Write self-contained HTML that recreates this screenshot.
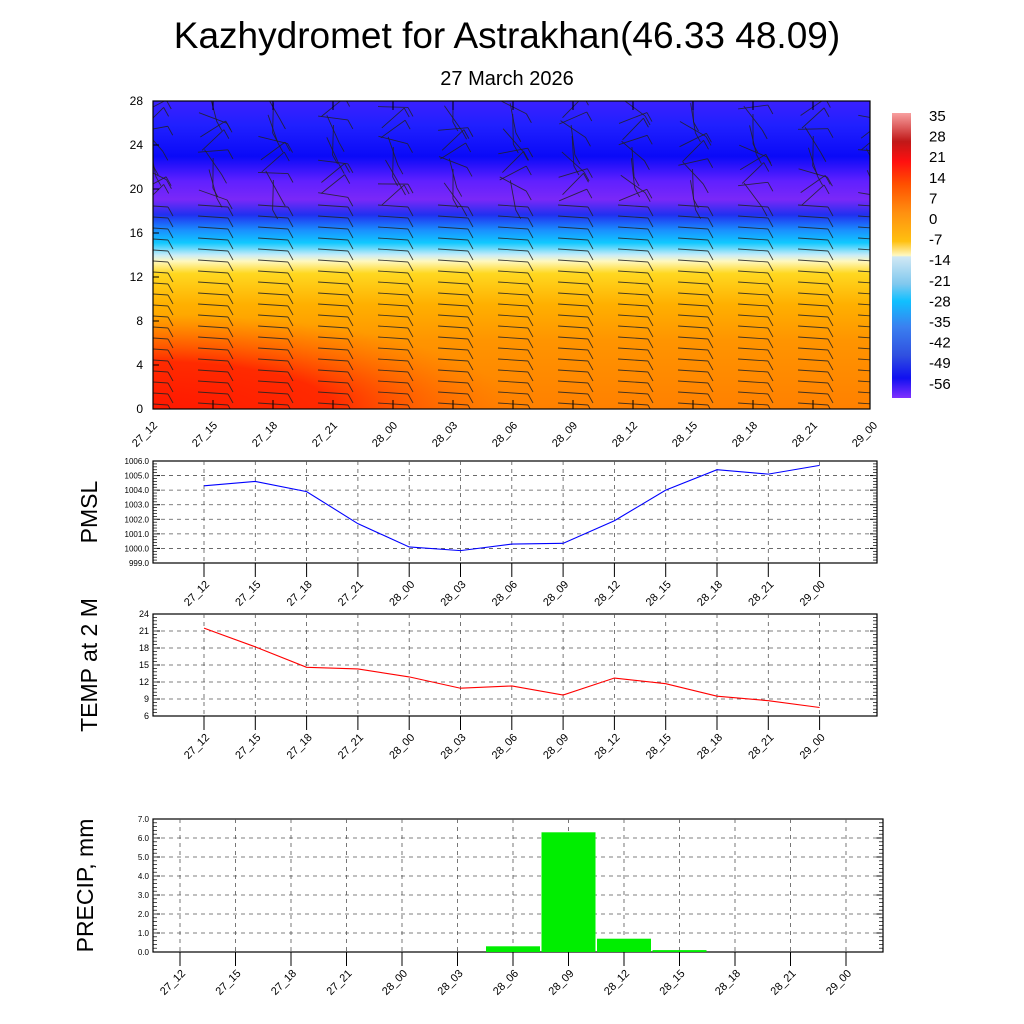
<!DOCTYPE html>
<html><head><meta charset="utf-8"><style>
body{margin:0;background:#fff;}
svg{display:block;font-family:"Liberation Sans",sans-serif;}
</style></head><body>
<svg id="s" width="1024" height="1024" xmlns="http://www.w3.org/2000/svg">
<defs>
<linearGradient id="fld" x1="0" y1="0" x2="0" y2="1">
<stop offset="0" stop-color="#3a20ff"/>
<stop offset="0.08" stop-color="#2020ff"/>
<stop offset="0.18" stop-color="#0a0af8"/>
<stop offset="0.26" stop-color="#6020ff"/>
<stop offset="0.32" stop-color="#7a28f8"/>
<stop offset="0.37" stop-color="#2030f0"/>
<stop offset="0.42" stop-color="#1a90ff"/>
<stop offset="0.46" stop-color="#10c8ff"/>
<stop offset="0.5" stop-color="#c8ecf8"/>
<stop offset="0.52" stop-color="#fff8c0"/>
<stop offset="0.56" stop-color="#ffd820"/>
<stop offset="0.66" stop-color="#ffb000"/>
<stop offset="0.78" stop-color="#ff9400"/>
<stop offset="1" stop-color="#ff8000"/>
</linearGradient>
<radialGradient id="hot" cx="153" cy="409" r="1" gradientTransform="translate(153,409) scale(360,95) translate(-153,-409)" gradientUnits="userSpaceOnUse">
<stop offset="0" stop-color="#ff1800" stop-opacity="1"/>
<stop offset="0.5" stop-color="#ff2000" stop-opacity="0.9"/>
<stop offset="1" stop-color="#ff6000" stop-opacity="0"/>
</radialGradient>
<linearGradient id="cb" x1="0" y1="0" x2="0" y2="1">
<stop offset="0" stop-color="#f8a0a0"/>
<stop offset="0.1" stop-color="#c01818"/>
<stop offset="0.17" stop-color="#ff1010"/>
<stop offset="0.25" stop-color="#ff5000"/>
<stop offset="0.35" stop-color="#ff9010"/>
<stop offset="0.45" stop-color="#ffc010"/>
<stop offset="0.5" stop-color="#fff8c0"/>
<stop offset="0.505" stop-color="#d0e8f4"/>
<stop offset="0.6" stop-color="#80c8ee"/>
<stop offset="0.66" stop-color="#10c0ff"/>
<stop offset="0.75" stop-color="#3a80f0"/>
<stop offset="0.85" stop-color="#3050e0"/>
<stop offset="0.93" stop-color="#1010f0"/>
<stop offset="1" stop-color="#8030ff"/>
</linearGradient>
<clipPath id="cp"><rect x="153" y="101" width="717" height="308"/></clipPath>
</defs>
<text x="507" y="48" font-size="37" text-anchor="middle">Kazhydromet for Astrakhan(46.33 48.09)</text>
<text x="507" y="85" font-size="20" text-anchor="middle">27 March 2026</text>
<rect x="153" y="101" width="717" height="308" fill="url(#fld)"/>
<rect x="153" y="300" width="420" height="109" fill="url(#hot)"/>
<g id="barbs" stroke="#222" stroke-width="0.9" fill="none" clip-path="url(#cp)" stroke-opacity="0.85"></g>
<rect x="153" y="101" width="717" height="308" fill="none" stroke="#000" stroke-width="1.2"/>
<rect x="892" y="113" width="19" height="285" fill="url(#cb)"/>
<g id="g" font-size="12"></g>
</svg>
<script>
var g=document.getElementById('g'),ns='http://www.w3.org/2000/svg';
function el(t,a,txt,p){var e=document.createElementNS(ns,t);for(var k in a)e.setAttribute(k,a[k]);if(txt!=null)e.textContent=txt;(p||g).appendChild(e);return e;}
var labs=['27_12','27_15','27_18','27_21','28_00','28_03','28_06','28_09','28_12','28_15','28_18','28_21','29_00'];
for(var i=0;i<=7;i++){var y=409-i*44;el('text',{x:143,y:y+4,'font-size':12,'text-anchor':'end'},''+i*4);el('line',{x1:153,x2:159,y1:y,y2:y,stroke:'#000'});}
for(var i=0;i<13;i++){var x=153+i*60;el('text',{x:0,y:0,'font-size':11,'text-anchor':'end',transform:'translate('+(x+5)+',426) rotate(-45)'},labs[i]);
 if(x<=870){el('line',{x1:x,x2:x,y1:409,y2:400,stroke:'#000'});el('line',{x1:x,x2:x,y1:101,y2:110,stroke:'#000'});}}
var cbl=[35,28,21,14,7,0,-7,-14,-21,-28,-35,-42,-49,-56];
for(var i=0;i<cbl.length;i++)el('text',{x:929,y:121+i*20.6,'font-size':15},''+cbl[i]);
var bg=document.getElementById('barbs');
for(var c=0;c<13;c++)for(var r=0;r<28;r++){var x=153+c*60,y=404-r*11;
 if(y>205){el('line',{x1:x-15,y1:y-1,x2:x+15,y2:y+1},null,bg);el('line',{x1:x+15,y1:y+1,x2:x+20,y2:y+10},null,bg);}
 else{var a=Math.sin(c*1.7+r*0.9)*1.2+0.4;var L=30;var x1=x-L/2*Math.cos(a),y1=y-L/2*Math.sin(a),x2=x+L/2*Math.cos(a),y2=y+L/2*Math.sin(a);
  el('line',{x1:x1,y1:y1,x2:x2,y2:y2},null,bg);el('line',{x1:x2,y1:y2,x2:x2+5,y2:y2+9},null,bg);}}
function panel(L,T,R,B,ymin,ymax,step,fmt,x0,dx,title,tx,fs){
 el('rect',{x:L,y:T,width:R-L,height:B-T,fill:'none',stroke:'#000','stroke-width':1.2});
 var n=Math.round((ymax-ymin)/step);
 for(var i=0;i<=n;i++){var v=ymin+i*step,y=B-(v-ymin)/(ymax-ymin)*(B-T);
  el('text',{x:L-4,y:y+3,'font-size':fs,'text-anchor':'end'},fmt(v));
  el('line',{x1:L,x2:L+7,y1:y,y2:y,stroke:'#000'});el('line',{x1:R,x2:R-7,y1:y,y2:y,stroke:'#000'});
  if(i>0&&i<n)el('line',{x1:L,x2:R,y1:y,y2:y,stroke:'#555','stroke-dasharray':'4,4','stroke-width':0.8});
  for(var k=1;k<5&&i<n;k++){var yy=y-k*(B-T)/n/5;el('line',{x1:L,x2:L+4,y1:yy,y2:yy,stroke:'#000','stroke-width':0.7});el('line',{x1:R,x2:R-4,y1:yy,y2:yy,stroke:'#000','stroke-width':0.7});}}
 for(var i=0;i<13;i++){var x=x0+i*dx;el('line',{x1:x,x2:x,y1:T,y2:B,stroke:'#555','stroke-dasharray':'4,4','stroke-width':0.8});
  el('line',{x1:x,x2:x,y1:B,y2:B+14,stroke:'#000'});
  el('text',{x:0,y:0,'font-size':11,'text-anchor':'end',transform:'translate('+(x+6)+','+(B+22)+') rotate(-45)'},labs[i]);}
 el('text',{x:0,y:0,'font-size':23,'text-anchor':'middle',transform:'translate('+tx+','+((T+B)/2)+') rotate(-90)'},title);
}
panel(153,461,877,563,999,1006,1,function(v){return v.toFixed(1)},204,51.3,'PMSL',97,8);
var p=[1004.3,1004.6,1003.9,1001.7,1000.1,999.85,1000.3,1000.35,1001.9,1004.0,1005.4,1005.1,1005.7];
el('polyline',{fill:'none',stroke:'#00f','stroke-width':1.1,points:p.map(function(v,i){return (204+i*51.3)+','+(563-(v-999)*102/7)}).join(' ')});
panel(153,614,877,716,6,24,3,function(v){return ''+v},204,51.3,'TEMP at 2 M',97,9);
var t=[21.5,18.2,14.6,14.3,12.9,10.9,11.3,9.7,12.7,11.7,9.5,8.7,7.5];
el('polyline',{fill:'none',stroke:'#f00','stroke-width':1.1,points:t.map(function(v,i){return (204+i*51.3)+','+(716-(v-6)*102/18)}).join(' ')});
panel(153,819,883,952,0,7,1,function(v){return v.toFixed(1)},180,55.5,'PRECIP, mm',93,8);
[[6,0.3],[7,6.3],[8,0.7],[9,0.1]].forEach(function(b){var x=180+b[0]*55.5,h=b[1]*19;el('rect',{x:x-27,y:952-h,width:54,height:h,fill:'#00ee00'});});
</script>
</body></html>
